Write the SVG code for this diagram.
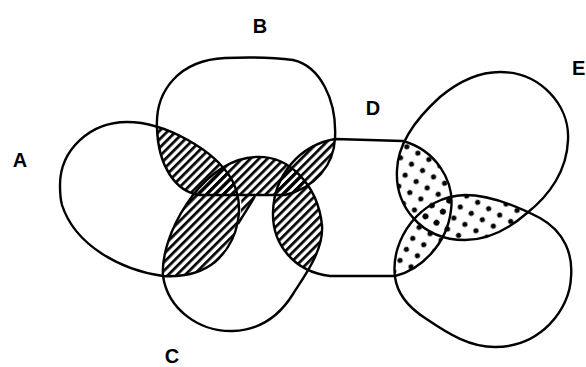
<svg xmlns="http://www.w3.org/2000/svg" width="586" height="367" viewBox="0 0 586 367">
<style>
.outline{fill:none;stroke:#000;stroke-width:2.4;stroke-linejoin:round}
.hatch{fill:url(#hatch)}
.dots{fill:url(#dots)}
.lbl{font-family:"Liberation Sans",Arial,sans-serif;font-weight:bold;font-size:20px;fill:#000;text-anchor:middle}
</style>
<defs>
<pattern id="hatch" width="6" height="6" patternUnits="userSpaceOnUse" patternTransform="rotate(45)"><rect width="2.7" height="6" fill="#000"/></pattern>
<pattern id="dots" width="18" height="18" patternUnits="userSpaceOnUse" patternTransform="rotate(-15)"><circle cx="4" cy="4" r="2.6" fill="#000"/><circle cx="13" cy="13" r="2.6" fill="#000"/></pattern>
<path id="pA" d="M60,185 C60,150 90,122 127,122 C165,122 215,150 232,180 C245,205 240,240 215,262 C200,274 180,277 163,276 C120,270 75,245 62,205 C60,198 60,192 60,185 Z"/>
<path id="pB" d="M157,128 C155,90 180,60 225,58 C250,57 270,57 293,60 C320,66 337,100 335,138 C334,165 315,188 285,195 L200,195 C175,192 158,165 157,128 Z"/>
<path id="pC" d="M163,276 C160,235 200,166 247,158 C290,150 318,188 322,225 C324,250 305,275 293,294 C280,315 260,330 233,331 C200,332 168,310 163,276 Z"/>
<path id="pD" d="M335,139 L403,141 C435,150 455,180 451,210 C447,245 420,270 395,276 L330,276 C295,272 272,245 273,212 C274,175 300,145 335,139 Z"/>
<path id="pE" d="M500,72 C540,72 570,105 568,140 C567,170 550,195 527,213 C510,228 490,240 465,240 C420,240 395,205 397,170 C398,140 420,115 440,97 C458,82 478,72 500,72 Z"/>
<path id="pF" d="M395,277 C390,240 420,196 465,195 C490,195 515,205 540,218 C565,232 573,255 571,277 C570,310 540,347 495,347 C470,347 450,335 425,318 C405,305 397,292 395,277 Z"/>
<clipPath id="cA"><use href="#pA"/></clipPath>
<clipPath id="cB"><use href="#pB"/></clipPath>
<clipPath id="cC"><use href="#pC"/></clipPath>
<clipPath id="cD"><use href="#pD"/></clipPath>
<clipPath id="cE"><use href="#pE"/></clipPath>
</defs>
<rect width="586" height="367" fill="#fff"/>
<g id="overlaps">
<g clip-path="url(#cB)"><use href="#pA" class="hatch"/></g>
<g clip-path="url(#cC)"><use href="#pA" class="hatch"/></g>
<g clip-path="url(#cC)"><use href="#pB" class="hatch"/></g>
<g clip-path="url(#cD)"><use href="#pB" class="hatch"/></g>
<g clip-path="url(#cD)"><use href="#pC" class="hatch"/></g>
<path class="hatch" d="M238,224 C244,214 250,205 255,196 L241,196 C242,206 241,215 238,224 Z"/>
<g clip-path="url(#cE)"><use href="#pD" class="dots"/></g>
<g clip-path="url(#cD)"><use href="#pF" class="dots"/></g>
<g clip-path="url(#cE)"><use href="#pF" class="dots"/></g>
</g>
<g id="setA"><use href="#pA" class="outline"/><text class="lbl" x="20" y="167">A</text></g>
<g id="setB"><use href="#pB" class="outline"/><text class="lbl" x="260" y="33">B</text></g>
<g id="setC"><use href="#pC" class="outline"/><text class="lbl" x="172" y="363">C</text></g>
<g id="setD"><use href="#pD" class="outline"/><text class="lbl" x="373" y="115">D</text></g>
<g id="setE"><use href="#pE" class="outline"/><text class="lbl" x="572" y="75" style="text-anchor:start">E</text></g>
<g id="setF"><use href="#pF" class="outline"/></g>
<g id="connectors"><path class="outline" d="M238,224 C244,214 250,205 255,196"/></g>
</svg>
